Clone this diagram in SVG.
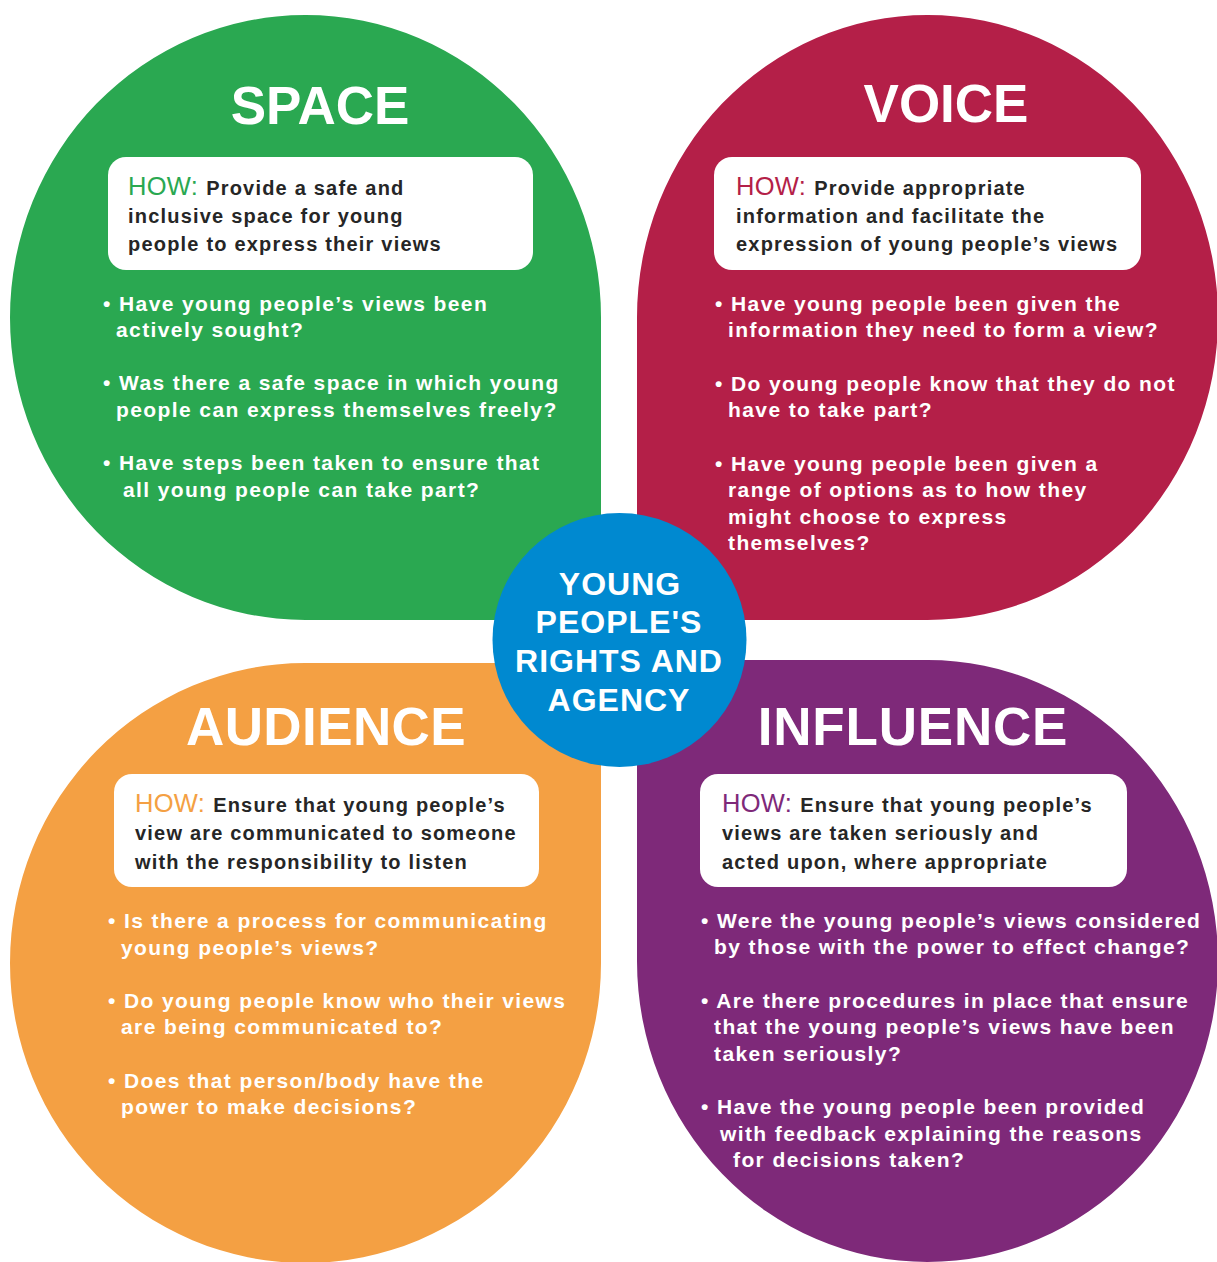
<svg xmlns="http://www.w3.org/2000/svg" width="1217" height="1262" viewBox="0 0 1217 1262">
  <style>
    text { font-family: 'Liberation Sans', Arial, Helvetica, sans-serif; }
    .title { font-size: 53px; font-weight: bold; fill: #ffffff; text-anchor: middle; }
    .how { font-size: 25.5px; font-weight: normal; letter-spacing: 0.3px; }
    .howtxt { font-size: 20px; font-weight: bold; fill: #262626; letter-spacing: 1.2px; }
    .q { font-size: 21px; font-weight: bold; fill: #ffffff; letter-spacing: 1.4px; }
    .box { fill: #ffffff; }
    .hub { font-size: 32px; font-weight: bold; fill: #ffffff; text-anchor: middle; letter-spacing: 1px; }
  </style>

  <!-- SPACE petal (top-left) -->
  <g id="space">
    <path d="M601,620 L305.5,620 A295.5,302.5 0 0 1 10,317.5 A295.5,302.5 0 0 1 305.5,15 A295.5,302.5 0 0 1 601,317.5 Z" fill="#2aa851"/>
    <text class="title" x="320" y="124">SPACE</text>
    <rect class="box" x="108" y="157" width="425" height="113" rx="18"/>
    <text x="128" y="195"><tspan class="how" fill="#2aa851">HOW:</tspan><tspan class="howtxt" dx="8">Provide a safe and</tspan></text>
    <text class="howtxt" x="128" y="223">inclusive space for young</text>
    <text class="howtxt" x="128" y="251">people to express their views</text>
    <text class="q" x="103" y="311">• Have young people’s views been</text>
    <text class="q" x="116" y="337">actively sought?</text>
    <text class="q" x="103" y="390">• Was there a safe space in which young</text>
    <text class="q" x="116" y="417">people can express themselves freely?</text>
    <text class="q" x="103" y="470">• Have steps been taken to ensure that</text>
    <text class="q" x="123" y="497">all young people can take part?</text>
  </g>

  <!-- VOICE petal (top-right) -->
  <g id="voice">
    <path d="M637,620 L637,317.5 A290.5,302.5 0 0 1 927.5,15 A290.5,302.5 0 0 1 1218,317.5 A290.5,302.5 0 0 1 927.5,620 Z" fill="#b41f48"/>
    <text class="title" x="946" y="122">VOICE</text>
    <rect class="box" x="714" y="157" width="427" height="113" rx="18"/>
    <text x="736" y="195"><tspan class="how" fill="#b41f48">HOW:</tspan><tspan class="howtxt" dx="8">Provide appropriate</tspan></text>
    <text class="howtxt" x="736" y="223">information and facilitate the</text>
    <text class="howtxt" x="736" y="251">expression of young people’s views</text>
    <text class="q" x="715" y="311">• Have young people been given the</text>
    <text class="q" x="728" y="337">information they need to form a view?</text>
    <text class="q" x="715" y="391">• Do young people know that they do not</text>
    <text class="q" x="728" y="417">have to take part?</text>
    <text class="q" x="715" y="471">• Have young people been given a</text>
    <text class="q" x="728" y="497">range of options as to how they</text>
    <text class="q" x="728" y="524">might choose to express</text>
    <text class="q" x="728" y="550">themselves?</text>
  </g>

  <!-- AUDIENCE petal (bottom-left) -->
  <g id="audience">
    <path d="M601,663 L601,963 A295.5,300 0 0 1 305.5,1263 A295.5,300 0 0 1 10,963 A295.5,300 0 0 1 305.5,663 Z" fill="#f4a043"/>
    <text class="title" x="326" y="745" style="letter-spacing:0.4px">AUDIENCE</text>
    <rect class="box" x="114" y="774" width="425" height="113" rx="18"/>
    <text x="135" y="812"><tspan class="how" fill="#f4a043">HOW:</tspan><tspan class="howtxt" dx="8">Ensure that young people’s</tspan></text>
    <text class="howtxt" x="135" y="840">view are communicated to someone</text>
    <text class="howtxt" x="135" y="869">with the responsibility to listen</text>
    <text class="q" x="108" y="928">• Is there a process for communicating</text>
    <text class="q" x="121" y="955">young people’s views?</text>
    <text class="q" x="108" y="1008">• Do young people know who their views</text>
    <text class="q" x="121" y="1034">are being communicated to?</text>
    <text class="q" x="108" y="1088">• Does that person/body have the</text>
    <text class="q" x="121" y="1114">power to make decisions?</text>
  </g>

  <!-- INFLUENCE petal (bottom-right) -->
  <g id="influence">
    <path d="M637,660 L927.5,660 A290.5,301 0 0 1 1218,961 A290.5,301 0 0 1 927.5,1262 A290.5,301 0 0 1 637,961 Z" fill="#7e2979"/>
    <text class="title" x="913" y="745" style="letter-spacing:0.8px">INFLUENCE</text>
    <rect class="box" x="700" y="774" width="427" height="113" rx="18"/>
    <text x="722" y="812"><tspan class="how" fill="#7e2979">HOW:</tspan><tspan class="howtxt" dx="8">Ensure that young people’s</tspan></text>
    <text class="howtxt" x="722" y="840">views are taken seriously and</text>
    <text class="howtxt" x="722" y="869">acted upon, where appropriate</text>
    <text class="q" x="701" y="928">• Were the young people’s views considered</text>
    <text class="q" x="714" y="954">by those with the power to effect change?</text>
    <text class="q" x="701" y="1008">• Are there procedures in place that ensure</text>
    <text class="q" x="714" y="1034">that the young people’s views have been</text>
    <text class="q" x="714" y="1061">taken seriously?</text>
    <text class="q" x="701" y="1114">• Have the young people been provided</text>
    <text class="q" x="720" y="1141">with feedback explaining the reasons</text>
    <text class="q" x="733" y="1167">for decisions taken?</text>
  </g>

  <!-- central hub -->
  <g id="hub">
    <circle cx="619.5" cy="640" r="127" fill="#0089d0"/>
    <text class="hub" x="620" y="595">YOUNG</text>
    <text class="hub" x="619" y="633">PEOPLE'S</text>
    <text class="hub" x="619" y="672">RIGHTS AND</text>
    <text class="hub" x="619" y="711">AGENCY</text>
  </g>

  <g id="connectors"></g>
</svg>
